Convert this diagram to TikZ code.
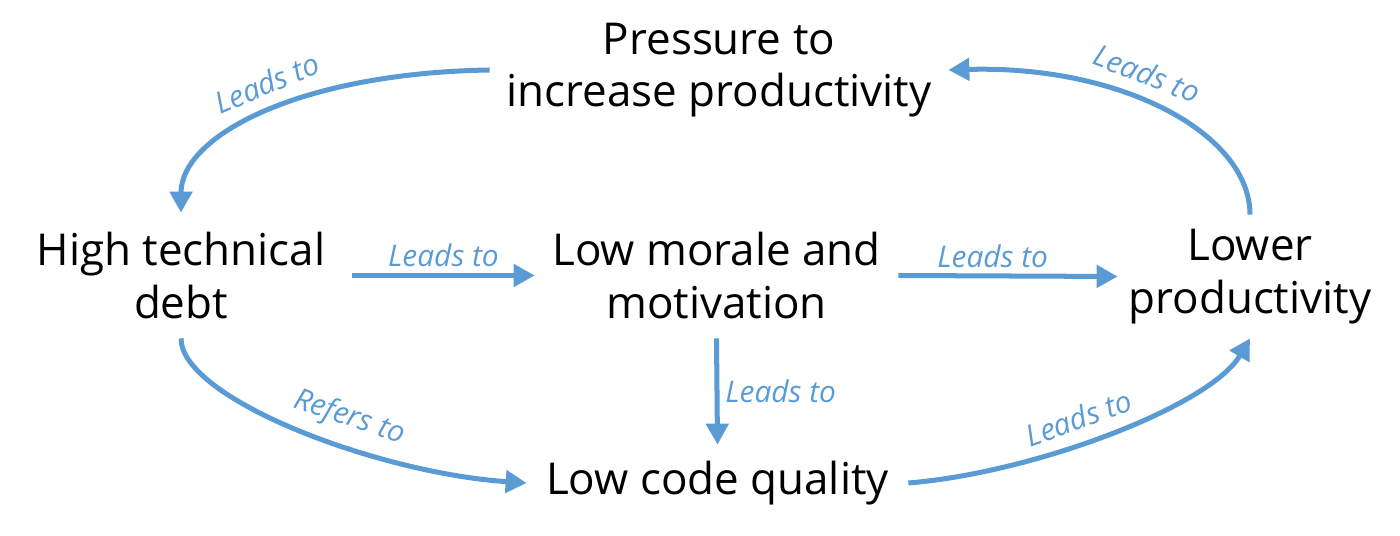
\documentclass[tikz,border=0pt]{standalone}
\usepackage{fontspec}
\setmainfont{Open Sans}
\usetikzlibrary{arrows.meta}
\definecolor{loopblue}{RGB}{91,155,213}

\begin{document}
\begin{tikzpicture}[>={Triangle[length=0.42cm,width=0.44cm]},
    concept/.style={align=center,inner sep=0pt,font=\fontsize{25}{30}\selectfont},
    flow/.style={->,loopblue,line width=2.85pt},
    tag/.style={loopblue,font=\fontsize{17}{19}\selectfont\itshape}]
    \useasboundingbox (0,0) rectangle (28,10.72);

    % Concepts
    \node[concept,minimum width=9.16cm,minimum height=1.4cm] (press) at (14.38,9.32) {Pressure to\\increase productivity};
    \node[concept,minimum width=6.84cm,minimum height=2.5cm] (debt) at (3.62,5.21) {High technical\\debt};
    \node[concept,minimum width=7.26cm,minimum height=2.5cm] (morale) at (14.33,5.21) {Low morale and\\motivation};
    \node[concept,minimum width=5.28cm,minimum height=2.46cm] (lower) at (25.0,5.19) {Lower\\productivity};
    \node[concept,minimum width=7.62cm,minimum height=1.52cm] (code) at (14.35,1.06) {Low code quality};

    % Outer loop
    \draw[flow] (press.west) .. controls +(-3.8,-0.06) and +(0,1.54) .. (debt.north)
        node[tag,pos=0.46,sloped,above=4pt] {Leads to};
    \draw[flow] (lower.north) .. controls +(0,1.6) and +(3.5,0.1) .. (press.east)
        node[tag,pos=0.58,sloped,above=4pt] {Leads to};
    \draw[flow] (debt.south) .. controls +(0,-1.2) and +(-3,0.2) .. (code.west)
        node[tag,pos=0.6,sloped,above=3pt] {Refers to};
    \draw[flow] (code.east) .. controls +(2.5,0.2) and +(-0.8,-1.36) .. (lower.south)
        node[tag,pos=0.44,sloped,above=3pt] {Leads to};

    % Straight links
    \draw[flow] (debt.east) -- (morale.west) node[tag,midway,above] {Leads to};
    \draw[flow] (morale.east) -- (lower.west) node[tag,pos=0.43,above] {Leads to};
    \draw[flow] (morale.south) -- (code.north) node[tag,midway,right] {Leads to};
\end{tikzpicture}
\end{document}
